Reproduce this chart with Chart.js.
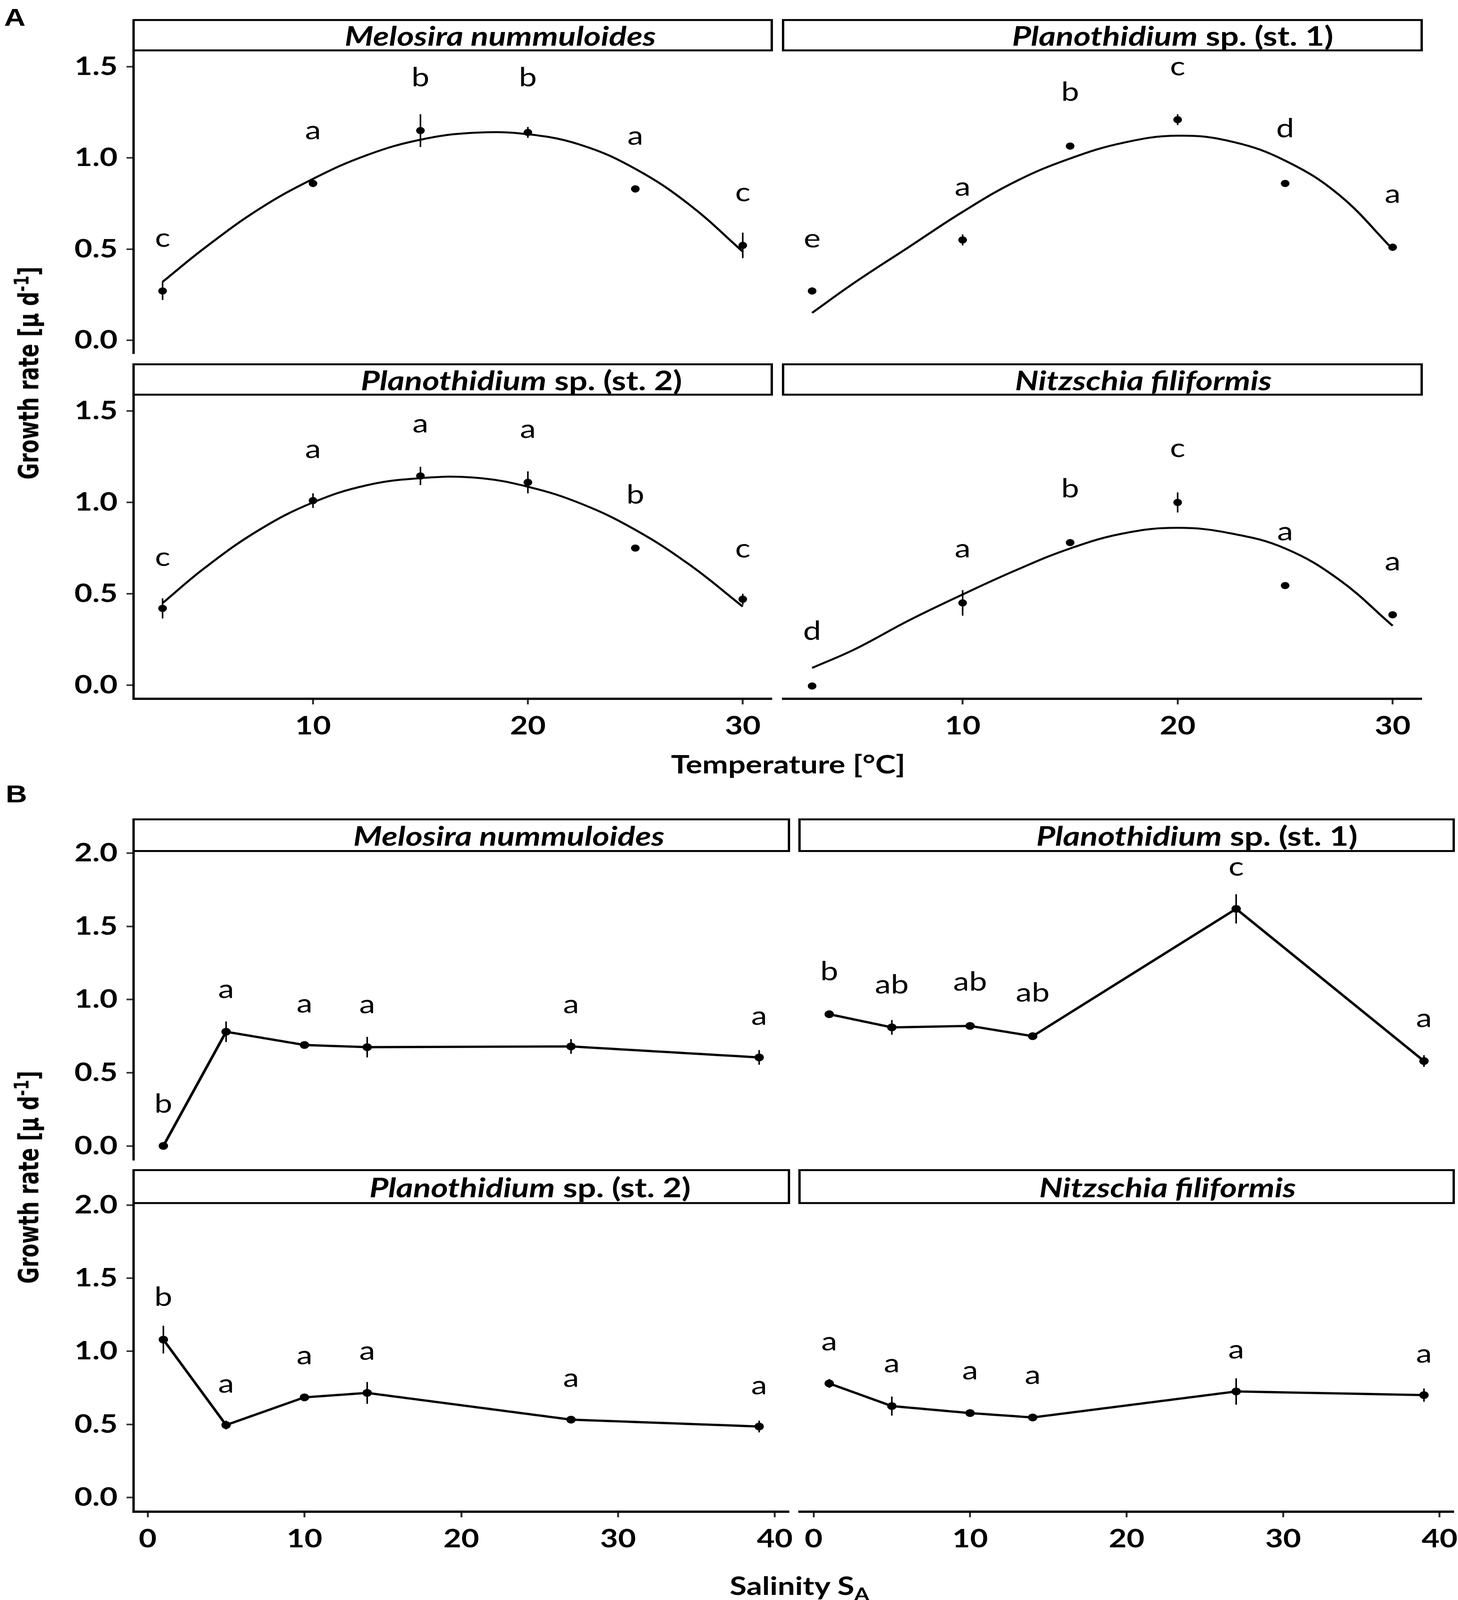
<!DOCTYPE html>
<html>
<head>
<meta charset="utf-8">
<script src="https://cdn.jsdelivr.net/npm/chart.js@4.4.0/dist/chart.umd.min.js"></script>
<style>
  html, body { margin: 0; padding: 0; background: #fff; overflow: hidden; }
  #page { position: relative; width: 3733px; height: 4954px; overflow: hidden; background: #fff; transform-origin: 0 0; }
  canvas { position: absolute; }
  .strip { position: absolute; box-sizing: border-box; border: 6px solid #000; background: #fff;
           display: flex; align-items: center; justify-content: center;
           font: bold 84px Lato, sans-serif; color: #000; white-space: nowrap; }
  .lbl { position: absolute; line-height: 1; height: 1em; white-space: nowrap; color: #000;
         transform: translate(-50%, -50%); }
</style>
</head>
<body>
<div id="page"></div>
<script>
// ---- data ----
const tempX = [3, 10, 15, 20, 25, 30];
const fitT = [3, 5, 7.5, 10, 12.5, 15, 17.5, 20, 22.5, 25, 27.5, 30];
const salX = [1, 5, 10, 14, 27, 39];

const tempTicksX = [10, 20, 30];
const tempTicksY = [0, 0.5, 1.0, 1.5];
const salTicksX = [0, 10, 20, 30, 40];
const salTicksY = [0, 0.5, 1.0, 1.5, 2.0];

// A: temperature
const meloTempMean = [0.27, 0.86, 1.15, 1.14, 0.83, 0.52];
const meloTempErr = [0.05, 0.02, 0.09, 0.03, 0.02, 0.07];
const meloTempLetters = ['c', 'a', 'b', 'b', 'a', 'c'];
const meloTempLetterY = [0.56, 1.15, 1.44, 1.44, 1.12, 0.81];
const meloTempFit = [0.32, 0.51, 0.72, 0.885, 1.015, 1.10, 1.138, 1.13, 1.07, 0.94, 0.745, 0.486];

const plano1TempMean = [0.27, 0.55, 1.065, 1.21, 0.86, 0.51];
const plano1TempErr = [0.02, 0.03, 0.01, 0.03, 0.01, 0.02];
const plano1TempLetters = ['e', 'a', 'b', 'c', 'd', 'a'];
const plano1TempLetterY = [0.555, 0.84, 1.36, 1.50, 1.16, 0.80];
const plano1TempFit = [0.15, 0.318, 0.511, 0.704, 0.873, 0.997, 1.084, 1.122, 1.09, 0.985, 0.798, 0.50];

const plano2TempMean = [0.42, 1.01, 1.145, 1.11, 0.75, 0.47];
const plano2TempErr = [0.055, 0.04, 0.05, 0.06, 0.01, 0.03];
const plano2TempLetters = ['c', 'a', 'a', 'a', 'b', 'c'];
const plano2TempLetterY = [0.70, 1.29, 1.43, 1.40, 1.04, 0.745];
const plano2TempFit = [0.449, 0.645, 0.85, 1.0, 1.094, 1.133, 1.136, 1.086, 0.992, 0.85, 0.661, 0.43];

const nitzTempMean = [-0.005, 0.45, 0.78, 1.0, 0.545, 0.385];
const nitzTempErr = [0.005, 0.07, 0.01, 0.055, 0.01, 0.015];
const nitzTempLetters = ['d', 'a', 'b', 'c', 'a', 'a'];
const nitzTempLetterY = [0.295, 0.745, 1.075, 1.295, 0.84, 0.675];
const nitzTempFit = [0.094, 0.197, 0.354, 0.496, 0.63, 0.748, 0.831, 0.861, 0.83, 0.748, 0.578, 0.325];

// B: salinity
const meloSalMean = [0.0, 0.78, 0.69, 0.675, 0.68, 0.605];
const meloSalErr = [0.01, 0.07, 0.01, 0.07, 0.05, 0.05];
const meloSalLetters = ['b', 'a', 'a', 'a', 'a', 'a'];
const meloSalLetterY = [0.285, 1.07, 0.97, 0.965, 0.965, 0.885];

const plano1SalMean = [0.90, 0.81, 0.82, 0.75, 1.62, 0.58];
const plano1SalErr = [0.01, 0.05, 0.01, 0.01, 0.10, 0.04];
const plano1SalLetters = ['b', 'ab', 'ab', 'ab', 'c', 'a'];
const plano1SalLetterY = [1.19, 1.10, 1.12, 1.045, 1.905, 0.87];

const plano2SalMean = [1.08, 0.495, 0.685, 0.715, 0.532, 0.485];
const plano2SalErr = [0.095, 0.03, 0.02, 0.075, 0.02, 0.04];
const plano2SalLetters = ['b', 'a', 'a', 'a', 'a', 'a'];
const plano2SalLetterY = [1.37, 0.775, 0.97, 1.0, 0.815, 0.765];

const nitzSalMean = [0.78, 0.625, 0.577, 0.547, 0.725, 0.70];
const nitzSalErr = [0.03, 0.065, 0.01, 0.02, 0.09, 0.045];
const nitzSalLetters = ['a', 'a', 'a', 'a', 'a', 'a'];
const nitzSalLetterY = [1.065, 0.915, 0.865, 0.835, 1.01, 0.98];

// ---- layout ----
const page = document.getElementById('page');
const P = 100;

// the figure is laid out at 3733x4954; squeeze it into the viewport we actually get
const sx = window.innerWidth / 3733, sy = window.innerHeight / 4954;
if (Math.abs(sx - 1) > 0.005 || Math.abs(sy - 1) > 0.005) {
  page.style.transform = 'scale(' + sx + ',' + sy + ')';
}

const errLetterPlugin = {
  id: 'errLetters',
  beforeDatasetsDraw(chart) {
    const ds = chart.data.datasets[0];
    const { ctx, scales: { x, y } } = chart;
    ctx.save();
    ctx.strokeStyle = '#000';
    ctx.lineWidth = 4;
    ds.data.forEach((p, i) => {
      const px = x.getPixelForValue(p.x);
      ctx.beginPath();
      ctx.moveTo(px, y.getPixelForValue(p.y - ds.errs[i]));
      ctx.lineTo(px, y.getPixelForValue(p.y + ds.errs[i]));
      ctx.stroke();
    });
    ctx.restore();
  },
  afterDatasetsDraw(chart) {
    const ds = chart.data.datasets[0];
    const { ctx, scales: { x, y } } = chart;
    ctx.save();
    ctx.fillStyle = '#000';
    ctx.font = '400 82px Lato';
    ctx.textAlign = 'center';
    ctx.textBaseline = 'middle';
    ds.data.forEach((p, i) => {
      ctx.fillText(ds.letters[i], x.getPixelForValue(p.x), y.getPixelForValue(ds.letterY[i]));
    });
    ctx.restore();
  }
};

function label(html, cx, cy, font, extra) {
  const d = document.createElement('div');
  d.className = 'lbl';
  d.innerHTML = html;
  d.style.left = cx + 'px';
  d.style.top = cy + 'px';
  d.style.font = font;
  if (extra) d.style.transform = 'translate(-50%, -50%) ' + extra;
  page.appendChild(d);
}

function addPanel(c) {
  const [x0, x1] = c.col;
  const [sTop, pTop, pBot] = c.row;

  const strip = document.createElement('div');
  strip.className = 'strip';
  strip.style.left = (x0 - 3) + 'px';
  strip.style.top = (sTop - 3) + 'px';
  strip.style.width = (x1 - x0 + 6) + 'px';
  strip.style.height = (pTop - sTop + 6) + 'px';
  strip.style.paddingLeft = (2 * c.titleShift) + 'px';
  strip.innerHTML = c.title;
  page.appendChild(strip);

  const axW = c.showY ? 250 : 0;
  const axH = c.showX ? 160 : 0;
  const cv = document.createElement('canvas');
  cv.width = (x1 - x0) + axW + 2 * P;
  cv.height = (pBot - pTop) + axH + 2 * P;
  cv.style.left = (x0 - axW - P) + 'px';
  cv.style.top = (pTop - P) + 'px';
  page.appendChild(cv);

  const datasets = [{
    data: c.xs.map((x, i) => ({ x: x, y: c.mean[i] })),
    errs: c.err,
    letters: c.letters,
    letterY: c.letterY,
    showLine: !!c.connect,
    borderColor: '#000',
    borderWidth: 7,
    pointRadius: c.connect ? 12 : 11,
    pointBackgroundColor: '#000',
    pointBorderWidth: 0
  }];
  if (c.fit) {
    datasets.push({
      data: fitT.map((t, i) => ({ x: t, y: c.fit[i] })),
      showLine: true,
      borderColor: '#000',
      borderWidth: 6,
      pointRadius: 0,
      tension: 0.4
    });
  }

  const tickFont = { family: 'Lato', weight: 'bold', size: 79 };
  new Chart(cv, {
    type: 'scatter',
    data: { datasets: datasets },
    options: {
      responsive: false,
      animation: false,
      devicePixelRatio: 1,
      layout: { padding: P },
      plugins: { legend: { display: false }, tooltip: { enabled: false } },
      scales: {
        x: {
          type: 'linear', min: c.xRange[0], max: c.xRange[1], bounds: 'data',
          display: c.showX,
          afterBuildTicks: s => { s.ticks = c.xTicks.map(v => ({ value: v })); },
          afterFit: s => { s.height = axH; },
          border: { display: true, color: '#000', width: 7 },
          grid: { display: true, drawOnChartArea: false, drawTicks: true, tickLength: 18, tickWidth: 5, tickColor: '#333' },
          ticks: { color: '#000', font: tickFont, padding: 20, maxRotation: 0, autoSkip: false, callback: v => String(v) }
        },
        y: {
          type: 'linear', min: c.yRange[0], max: c.yRange[1], bounds: 'data',
          display: c.showY,
          afterBuildTicks: s => { s.ticks = c.yTicks.map(v => ({ value: v })); },
          afterFit: s => { s.width = axW; },
          border: { display: true, color: '#000', width: 6 },
          grid: { display: true, drawOnChartArea: false, drawTicks: true, tickLength: 18, tickWidth: 5, tickColor: '#333' },
          ticks: { color: '#000', font: tickFont, padding: 23, autoSkip: false, callback: v => v.toFixed(1) }
        }
      }
    },
    plugins: [errLetterPlugin]
  });
}

const A_COLS = [[342, 1976], [2005, 3640]];
const A_ROWS = [[62, 156, 1095], [1128, 1222, 2163]];
const B_COLS = [[342, 2020], [2047, 3722]];
const B_ROWS = [[2537, 2635, 3592], [3623, 3725, 4680]];

const titles = {
  melo: '<i>Melosira nummuloides</i>',
  plano1: '<i>Planothidium</i>&nbsp;sp. (st. 1)',
  plano2: '<i>Planothidium</i>&nbsp;sp. (st. 2)',
  nitz: '<i>Nitzschia filiformis</i>'
};
const shifts = { melo: 122, plano1: 180, plano2: 176, nitz: 105 };

const tempPanels = [
  ['melo', meloTempMean, meloTempErr, meloTempLetters, meloTempLetterY, meloTempFit],
  ['plano1', plano1TempMean, plano1TempErr, plano1TempLetters, plano1TempLetterY, plano1TempFit],
  ['plano2', plano2TempMean, plano2TempErr, plano2TempLetters, plano2TempLetterY, plano2TempFit],
  ['nitz', nitzTempMean, nitzTempErr, nitzTempLetters, nitzTempLetterY, nitzTempFit]
];
tempPanels.forEach((p, k) => {
  const col = k % 2, row = Math.floor(k / 2);
  addPanel({
    title: titles[p[0]], titleShift: shifts[p[0]],
    col: A_COLS[col], row: A_ROWS[row], showY: col === 0, showX: row === 1,
    xs: tempX, mean: p[1], err: p[2], letters: p[3], letterY: p[4], fit: p[5],
    xRange: [1.65, 31.35], yRange: [-0.074, 1.59], xTicks: tempTicksX, yTicks: tempTicksY
  });
});

const salPanels = [
  ['melo', meloSalMean, meloSalErr, meloSalLetters, meloSalLetterY],
  ['plano1', plano1SalMean, plano1SalErr, plano1SalLetters, plano1SalLetterY],
  ['plano2', plano2SalMean, plano2SalErr, plano2SalLetters, plano2SalLetterY],
  ['nitz', nitzSalMean, nitzSalErr, nitzSalLetters, nitzSalLetterY]
];
salPanels.forEach((p, k) => {
  const col = k % 2, row = Math.floor(k / 2);
  addPanel({
    title: titles[p[0]], titleShift: shifts[p[0]],
    col: B_COLS[col], row: B_ROWS[row], showY: col === 0, showX: row === 1,
    xs: salX, mean: p[1], err: p[2], letters: p[3], letterY: p[4], connect: true,
    xRange: [-0.9, 40.9], yRange: [-0.097, 2.015], xTicks: salTicksX, yTicks: salTicksY
  });
});

// ---- panel letters and axis titles ----
label('A', 38, 48, 'bold 76px "Liberation Sans", Arial, sans-serif');
label('B', 42, 2452, 'bold 76px "Liberation Sans", Arial, sans-serif');
label('Temperature [°C]', 2018, 2356, 'bold 79px Lato, sans-serif');
label('Salinity S<sub style="font-size:0.7em">A</sub>', 2047, 4900, 'bold 79px Lato, sans-serif');
const yTitle = 'Growth rate [µ d<sup style="font-size:0.72em">-1</sup>]';
label(yTitle, 61, 1155, 'bold 72px "DejaVu Sans", sans-serif', 'rotate(-90deg) scaleX(0.86)');
label(yTitle, 61, 3645, 'bold 72px "DejaVu Sans", sans-serif', 'rotate(-90deg) scaleX(0.86)');
</script>
</body>
</html>
